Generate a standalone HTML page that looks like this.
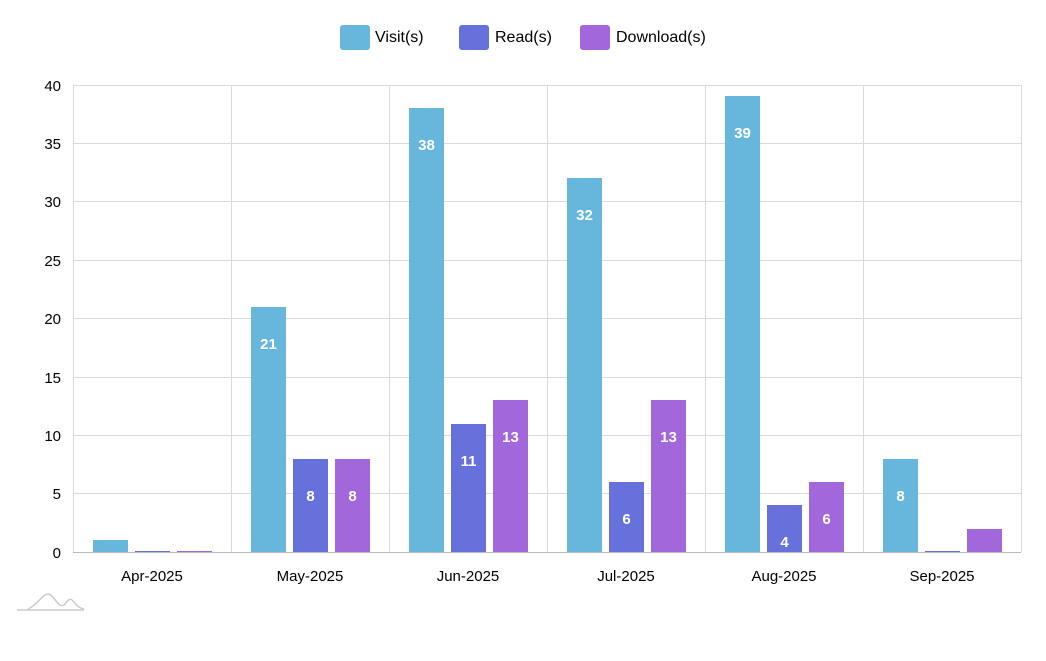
<!DOCTYPE html>
<html><head><style>
html,body{margin:0;padding:0;background:#fff;}
text{font-family:"Liberation Sans",sans-serif;}
</style></head><body>
<svg width="1046" height="656" xmlns="http://www.w3.org/2000/svg">
<g stroke="#dadada" stroke-width="1">
<line x1="73" y1="85.5" x2="1021" y2="85.5"/>
<line x1="73" y1="143.5" x2="1021" y2="143.5"/>
<line x1="73" y1="201.5" x2="1021" y2="201.5"/>
<line x1="73" y1="260.5" x2="1021" y2="260.5"/>
<line x1="73" y1="318.5" x2="1021" y2="318.5"/>
<line x1="73" y1="377.5" x2="1021" y2="377.5"/>
<line x1="73" y1="435.5" x2="1021" y2="435.5"/>
<line x1="73" y1="493.5" x2="1021" y2="493.5"/>
<line x1="73.5" y1="85" x2="73.5" y2="552"/>
<line x1="231.5" y1="85" x2="231.5" y2="552"/>
<line x1="389.5" y1="85" x2="389.5" y2="552"/>
<line x1="547.5" y1="85" x2="547.5" y2="552"/>
<line x1="705.5" y1="85" x2="705.5" y2="552"/>
<line x1="863.5" y1="85" x2="863.5" y2="552"/>
<line x1="1021.5" y1="85" x2="1021.5" y2="552"/>
</g>
<line x1="73" y1="552.5" x2="1021" y2="552.5" stroke="#bbb"/>
<g font-size="15" fill="#000" text-anchor="end">
<text x="61" y="91">40</text><text x="61" y="149">35</text><text x="61" y="207">30</text>
<text x="61" y="266">25</text><text x="61" y="324">20</text><text x="61" y="383">15</text>
<text x="61" y="441">10</text><text x="61" y="499">5</text><text x="61" y="558">0</text>
</g>
<g font-size="15" fill="#000" text-anchor="middle">
<text x="152" y="581">Apr-2025</text><text x="310" y="581">May-2025</text>
<text x="468" y="581">Jun-2025</text><text x="626" y="581">Jul-2025</text>
<text x="784" y="581">Aug-2025</text><text x="942" y="581">Sep-2025</text>
</g>
<g>
<rect x="93" y="540" width="35" height="12" fill="#67b7dc"/>
<rect x="135" y="551" width="35" height="1" fill="#6771dc"/>
<rect x="177" y="551" width="35" height="1" fill="#a367dc"/>
<rect x="251" y="307" width="35" height="245" fill="#67b7dc"/>
<rect x="293" y="459" width="35" height="93" fill="#6771dc"/>
<rect x="335" y="459" width="35" height="93" fill="#a367dc"/>
<rect x="409" y="108" width="35" height="444" fill="#67b7dc"/>
<rect x="451" y="424" width="35" height="128" fill="#6771dc"/>
<rect x="493" y="400" width="35" height="152" fill="#a367dc"/>
<rect x="567" y="178" width="35" height="374" fill="#67b7dc"/>
<rect x="609" y="482" width="35" height="70" fill="#6771dc"/>
<rect x="651" y="400" width="35" height="152" fill="#a367dc"/>
<rect x="725" y="96" width="35" height="456" fill="#67b7dc"/>
<rect x="767" y="505" width="35" height="47" fill="#6771dc"/>
<rect x="809" y="482" width="35" height="70" fill="#a367dc"/>
<rect x="883" y="459" width="35" height="93" fill="#67b7dc"/>
<rect x="925" y="551" width="35" height="1" fill="#6771dc"/>
<rect x="967" y="529" width="35" height="23" fill="#a367dc"/>
</g>
<g font-size="15" fill="#fff" font-weight="bold" text-anchor="middle">
<text x="268.5" y="349">21</text><text x="310.5" y="501">8</text><text x="352.5" y="501">8</text>
<text x="426.5" y="150">38</text><text x="468.5" y="466">11</text><text x="510.5" y="442">13</text>
<text x="584.5" y="220">32</text><text x="626.5" y="524">6</text><text x="668.5" y="442">13</text>
<text x="742.5" y="138">39</text><text x="784.5" y="547">4</text><text x="826.5" y="524">6</text>
<text x="900.5" y="501">8</text>
</g>
<rect x="340" y="25" width="30" height="25" rx="3" fill="#67b7dc"/>
<rect x="459" y="25" width="30" height="25" rx="3" fill="#6771dc"/>
<rect x="580" y="25" width="30" height="25" rx="3" fill="#a367dc"/>
<g font-size="16" fill="#000">
<text x="375" y="42">Visit(s)</text><text x="495" y="42">Read(s)</text><text x="616" y="42">Download(s)</text>
</g>
<g fill="none" stroke="#ccc" stroke-width="1.5">
<path d="M17 610 H84"/>
<path d="M28 609 C38 605 42 594 48 594 C54 594 58 609 64 605 C68 600 70 598 72 600 C76 604 78 608 84 609"/>
</g>
</svg>
</body></html>
